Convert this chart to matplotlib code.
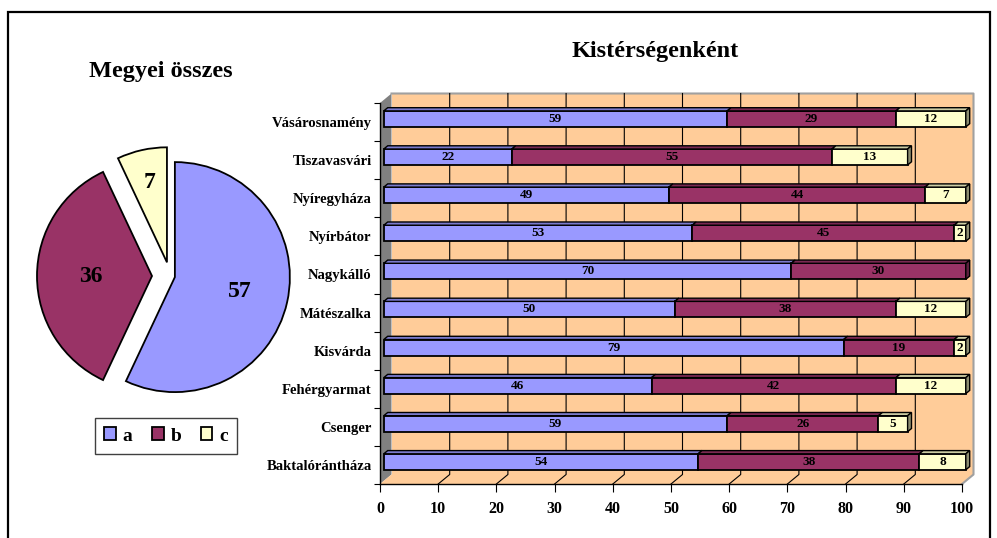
import matplotlib

matplotlib.use("Agg")
import matplotlib.pyplot as plt
import numpy as np
from matplotlib.patches import Polygon, Rectangle

plt.rcParams["font.family"] = ["Liberation Serif", "DejaVu Serif"]
plt.rcParams["font.weight"] = "bold"

W, H = 997, 538

# county totals (pie)
series = ["a", "b", "c"]
totals = [57, 36, 7]

# per sub-region shares, bottom to top
regions = [
    "Baktalórántháza", "Csenger", "Fehérgyarmat", "Kisvárda", "Mátészalka",
    "Nagykálló", "Nyírbátor", "Nyíregyháza", "Tiszavasvári", "Vásárosnamény",
]
share_a = [54, 59, 46, 79, 50, 70, 53, 49, 22, 59]
share_b = [38, 26, 42, 19, 38, 30, 45, 44, 55, 29]
share_c = [8, 5, 12, 2, 12, 0, 2, 7, 13, 12]
x_ticks = list(range(0, 101, 10))

FACE = ["#9999FF", "#993366", "#FFFFCC"]
TOP = ["#7A7ACC", "#7A2952", "#CCCCA3"]
SIDE = ["#5C5C99", "#5C1F3D", "#8C8C70"]
WALL = "#FFCC99"

fig = plt.figure(figsize=(W / 100, H / 100), dpi=100)

# ---- pie (axes units = pixels) --------------------------------------
axp = fig.add_axes([0, 0, 330 / W, 1])
wedges, _ = axp.pie(
    totals, colors=FACE, startangle=90, counterclock=False,
    explode=[5, 18, 14], radius=115, center=(170, H - 276),
    wedgeprops=dict(edgecolor="black", linewidth=1.3),
)
axp.set_xlim(0, 330)
axp.set_ylim(0, H)
axp.set_aspect("equal")
axp.axis("off")
for w, v, d in zip(wedges, totals, [0.58, 0.53, 0.71]):
    ang = np.radians((w.theta1 + w.theta2) / 2)
    cx, cy = w.center
    axp.text(cx + d * w.r * np.cos(ang), cy + d * w.r * np.sin(ang), str(v),
             ha="center", va="center", fontsize=17, fontweight="bold")
leg = axp.legend(
    wedges, series, ncol=3, loc="center", bbox_to_anchor=(166, H - 436),
    bbox_transform=axp.transData, fontsize=14, handlelength=0.6,
    handleheight=0.6, handletextpad=0.35, columnspacing=1.0, borderpad=0.5,
    fancybox=False, edgecolor="#404040", framealpha=1,
)
leg.get_frame().set_linewidth(1.0)
fig.text(161 / W, 1 - 72 / H, "Megyei összes", ha="center", va="center",
         fontsize=17.5, fontweight="bold")

# ---- 3D-looking stacked bars ----------------------------------------
ax = fig.add_axes([380 / W, 1 - 484 / H, (962 - 380) / W, (484 - 103) / H])
ax.set_xlim(0, 100)
ax.set_ylim(-0.5, 9.5)
ax.patch.set_visible(False)
ux = 100 / (962 - 380)
uy = 10 / (484 - 103)
DX, DY = 11.5 * ux, 9.5 * uy
BH = 16 * uy
FRONT, BACK = 0.33, 0.67


def shift(x, y, d):
    return (x + d * DX, y + d * DY)


def poly(pts, **kw):
    ax.add_patch(Polygon(pts, closed=True, clip_on=False, **kw))


ylo, yhi = -0.5, 9.5
poly([shift(0, ylo, 0), shift(0, ylo, 1), shift(0, yhi, 1), shift(0, yhi, 0)],
     facecolor="#808080", edgecolor="none", zorder=0)
poly([shift(0, ylo, 1), shift(100, ylo, 1), shift(100, yhi, 1), shift(0, yhi, 1)],
     facecolor=WALL, edgecolor="none", zorder=0)
poly([shift(0, ylo, 0), shift(100, ylo, 0), shift(100, ylo, 1), shift(0, ylo, 1)],
     facecolor=WALL, edgecolor="none", zorder=0)
edge = [shift(100, ylo, 0), shift(100, ylo, 1), shift(100, yhi, 1), shift(0, yhi, 1)]
ax.plot(*zip(*edge), color="#A0A0A0", lw=1.5, zorder=1, clip_on=False)
for v in x_ticks[1:-1]:
    pts = [shift(v, ylo, 0), shift(v, ylo, 1), shift(v, yhi, 1)]
    ax.plot(*zip(*pts), color="black", lw=0.8, zorder=1, clip_on=False)

ypos = np.arange(len(regions))
values = np.array([share_a, share_b, share_c], dtype=float)
lefts = np.vstack([np.zeros(len(regions)), np.cumsum(values, axis=0)[:-1]])
ends = np.cumsum(values, axis=0)[-1]

for k in range(3):
    m = values[k] > 0
    ax.barh(ypos[m] + FRONT * DY, values[k][m], left=lefts[k][m] + FRONT * DX,
            height=BH, color=FACE[k], edgecolor="black", lw=1.3, zorder=3,
            clip_on=False)
    for i in ypos[m]:
        x0, x1 = lefts[k][i], lefts[k][i] + values[k][i]
        yt = i + BH / 2
        poly([shift(x0, yt, FRONT), shift(x1, yt, FRONT), shift(x1, yt, BACK),
              shift(x0, yt, BACK)], facecolor=TOP[k], edgecolor="black",
             lw=1.0, zorder=3)
        if x1 == ends[i]:
            yb = i - BH / 2
            poly([shift(x1, yb, FRONT), shift(x1, yb, BACK), shift(x1, yt, BACK),
                  shift(x1, yt, FRONT)], facecolor=SIDE[k], edgecolor="black",
                 lw=1.0, zorder=3)
        tx, ty = shift((x0 + x1) / 2, i, FRONT)
        ax.text(tx, ty, f"{values[k][i]:.0f}", ha="center", va="center",
                fontsize=9.5, fontweight="bold", zorder=4)

ax.set_xticks(x_ticks)
ax.set_xticklabels([str(t) for t in x_ticks], fontsize=11.5, fontweight="bold")
ax.tick_params(axis="x", direction="out", length=6, width=0.8, pad=6)
ax.set_yticks(ypos)
ax.set_yticklabels(regions, fontsize=10.5, fontweight="bold")
ax.set_yticks(np.arange(-0.5, 10, 1), minor=True)
ax.tick_params(axis="y", which="major", length=0, pad=6)
ax.tick_params(axis="y", which="minor", direction="out", length=4.5, width=0.8)
for side in ("top", "right"):
    ax.spines[side].set_visible(False)
for side in ("left", "bottom"):
    ax.spines[side].set_linewidth(1.0)
    ax.spines[side].set_zorder(2)

fig.text(655 / W, 1 - 52 / H, "Kistérségenként", ha="center", va="center",
         fontsize=17.5, fontweight="bold")

fig.add_artist(Rectangle((8 / W, -0.05), (990 - 8) / W, 1.05 - 12 / H,
                         transform=fig.transFigure, fill=False,
                         edgecolor="black", lw=1.6))

fig.savefig("out.png", dpi=100)
